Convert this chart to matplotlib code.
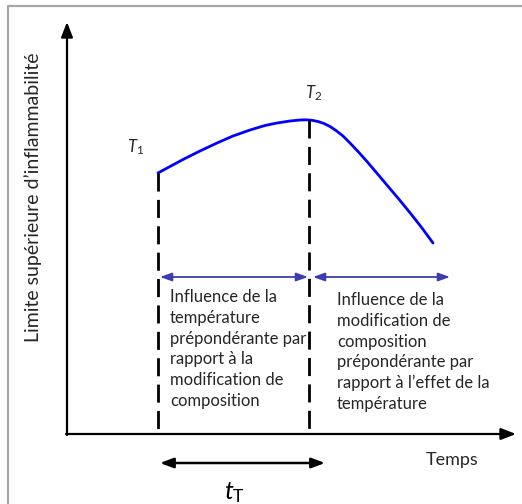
import matplotlib
matplotlib.use("Agg")
import matplotlib.pyplot as plt

plt.rcParams['font.family'] = ['Lato', 'DejaVu Sans']
plt.rcParams['mathtext.fontset'] = 'custom'
plt.rcParams['mathtext.rm'] = 'Lato'
plt.rcParams['mathtext.it'] = 'Lato:italic'

# Schematic coordinates (canvas units, y grows downward)
curve_time = [158, 170, 183, 200, 217, 233, 250, 265, 277, 290, 300, 306, 312,
              318, 324, 330, 336, 343, 350, 358, 367, 378, 389, 400, 411, 422, 433]
curve_limit = [173, 166.5, 159.5, 151, 143, 136, 130, 125.5, 123, 121, 120, 119.8, 120.3,
               121.5, 123.5, 126.5, 130.5, 136, 143, 151.5, 161.5, 174.5, 187.5,
               200.5, 214, 228, 243]

t1_time, t2_time = 158, 309
axis_origin = (67, 434)
axis_top = 22
axis_right = 516
arrow_level = 277
tt_level = 463
tt_span = (160, 325)
right_span_end = 450

left_text = ["Influence de la", "température", "prépondérante par",
             "rapport à la", "modification de", "composition"]
right_text = ["Influence de la", "modification de", "composition",
              "prépondérante par", "rapport à l\u2019effet de la", "température"]
left_baselines = [302, 323, 344, 364, 385, 406]
right_baselines = [305, 326, 347, 367, 388, 409]

fig = plt.figure(figsize=(5.22, 5.04), dpi=100)
ax = fig.add_axes([0, 0, 1, 1])
ax.set_xlim(0, 522)
ax.set_ylim(504, 0)
ax.axis('off')

# frame
ax.plot([8, 8, 522], [504, 6, 6], color='#a6a6a6', lw=1.6, solid_capstyle='butt')

# axes with arrows
ox, oy = axis_origin
head = '-|>,head_length=0.9,head_width=0.35'
ax.annotate('', xy=(ox, axis_top), xytext=(ox, oy + 1),
            arrowprops=dict(arrowstyle=head, color='black', lw=1.6,
                            shrinkA=0, shrinkB=0))
ax.annotate('', xy=(axis_right, oy), xytext=(ox - 1, oy),
            arrowprops=dict(arrowstyle=head, color='black', lw=1.6,
                            shrinkA=0, shrinkB=0))

# curve
ax.plot(curve_time, curve_limit, color='#0000ff', lw=2.0,
        solid_capstyle='round', solid_joinstyle='round')

# dashed markers at T1 and T2
ax.plot([t1_time, t1_time], [curve_limit[0], oy], color='black', lw=2.0,
        dashes=(6.5, 3.0))
ax.plot([t2_time, t2_time], [min(curve_limit), oy], color='black', lw=2.0,
        dashes=(6.5, 3.0))

# blue range arrows
blue = '#3d3dad'
both = '<|-|>,head_length=0.7,head_width=0.25'
ax.annotate('', xy=(t1_time + 2, arrow_level), xytext=(t2_time - 1, arrow_level),
            arrowprops=dict(arrowstyle=both, color=blue, lw=1.3,
                            shrinkA=0, shrinkB=0))
ax.annotate('', xy=(t2_time + 4, arrow_level), xytext=(right_span_end, arrow_level),
            arrowprops=dict(arrowstyle=both, color=blue, lw=1.3,
                            shrinkA=0, shrinkB=0))

# duration arrow
ax.annotate('', xy=(tt_span[0], tt_level), xytext=(tt_span[1], tt_level),
            arrowprops=dict(arrowstyle='<|-|>,head_length=0.8,head_width=0.3',
                            color='black', lw=1.8, shrinkA=0, shrinkB=0))

txt = dict(color='#262626', fontsize=12, va='baseline', ha='left')
for s, b in zip(left_text, left_baselines):
    ax.text(170, b, s, **txt)
for s, b in zip(right_text, right_baselines):
    ax.text(337, b, s, **txt)

ax.text(426, 465, 'Temps', color='#262626', fontsize=13, va='baseline', ha='left')
ax.text(33, 197, 'Limite supérieure d\u2019inflammabilité', rotation=90,
        ha='center', va='center', color='#262626', fontsize=14)

ax.text(127, 152, r'$T_1$', fontsize=12, color='#262626', va='baseline')
ax.text(305, 98, r'$T_2$', fontsize=12, color='#262626', va='baseline')
ax.text(224, 499, r'$t_{\mathrm{T}}$', fontsize=18, color='black', va='baseline')

fig.savefig('out.png', dpi=100)
